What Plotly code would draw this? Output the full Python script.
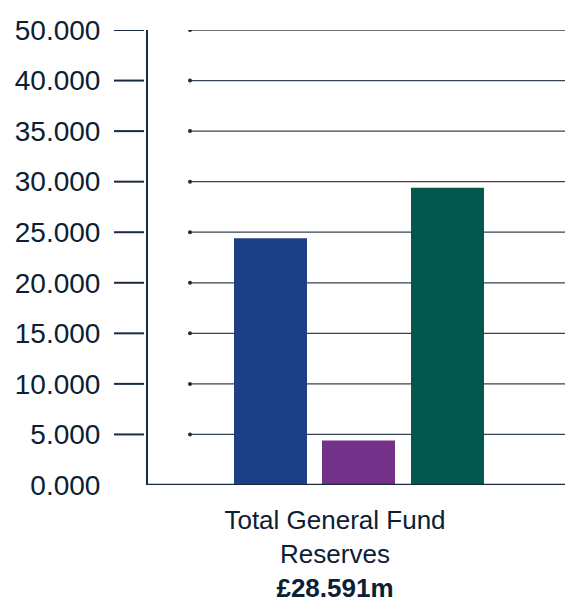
import plotly.graph_objects as go

categories = ["Total General Fund<br>Reserves<br><b>£28.591m</b>"]
series_names = ["Series A", "Series B", "Series C"]
series_values = [[24.4], [4.4], [29.4]]
series_colors = ["#1d3f87", "#74318a", "#02574f"]
tick_values = [0, 5, 10, 15, 20, 25, 30, 35, 40, 45]
tick_labels = ["0.000", "5.000", "10.000", "15.000", "20.000", "25.000",
               "30.000", "35.000", "40.000", "50.000"]

W, H = 565, 603
ML, MR, MT, MB = 148, 0, 30, 118
PW = W - ML - MR
TEXT = "#0b2033"
LINE = "#1c2c3c"

label_cx = 335
frac = (label_cx - ML) / PW
xrange = [-frac, 1 - frac]
bar_w = 73 / PW
bar_lefts_px = [234, 322, 411]

fig = go.Figure()
for name, vals, col, lx in zip(series_names, series_values, series_colors, bar_lefts_px):
    fig.add_trace(go.Bar(
        x=categories, y=vals, name=name, marker_color=col,
        marker_line_width=0,
        width=bar_w, offset=(lx - label_cx) / PW,
        showlegend=False, hoverinfo="y",
    ))

shapes = []
grid_x0 = (190 - ML) / PW
for v in tick_values[1:]:
    shapes.append(dict(type="line", xref="paper", yref="y", x0=grid_x0, x1=1,
                       y0=v, y1=v, line=dict(color="#34434f", width=1.3), layer="below"))
    shapes.append(dict(type="circle", xref="paper", yref="y", xsizemode="pixel",
                       ysizemode="pixel", xanchor=grid_x0, yanchor=v,
                       x0=-2, x1=2, y0=-2, y1=2,
                       fillcolor="#1c2c3c", line=dict(width=0), layer="below"))
    shapes.append(dict(type="line", xref="paper", yref="y",
                       x0=(114 - ML) / PW, x1=(144 - ML) / PW, y0=v, y1=v,
                       line=dict(color=LINE, width=2)))
# baseline across full plot width
shapes.append(dict(type="line", xref="paper", yref="y", x0=0, x1=1, y0=0, y1=0,
                   line=dict(color=LINE, width=2.5)))

fig.update_layout(
    width=W, height=H,
    margin=dict(l=ML, r=MR, t=MT, b=MB, pad=0, autoexpand=False),
    paper_bgcolor="white", plot_bgcolor="white",
    font=dict(family="Liberation Sans, Arial, sans-serif", size=28, color=TEXT),
    barmode="overlay",
    shapes=shapes,
    xaxis=dict(range=xrange, showgrid=False, showline=False, automargin=False,
               ticks="", zeroline=False, ticklabelstandoff=17,
               tickfont=dict(size=26, color=TEXT)),
    yaxis=dict(range=[0, 45], tickvals=tick_values, ticktext=tick_labels,
               showgrid=False, zeroline=False, showline=True, linecolor=LINE,
               linewidth=2, ticks="", ticklabelstandoff=40, automargin=False,
               tickfont=dict(size=28, color=TEXT)),
)

fig.write_html(
    "out.html",
    config={"displayModeBar": False},
    post_script="document.body.style.margin='0';document.body.style.overflow='hidden';",
)
